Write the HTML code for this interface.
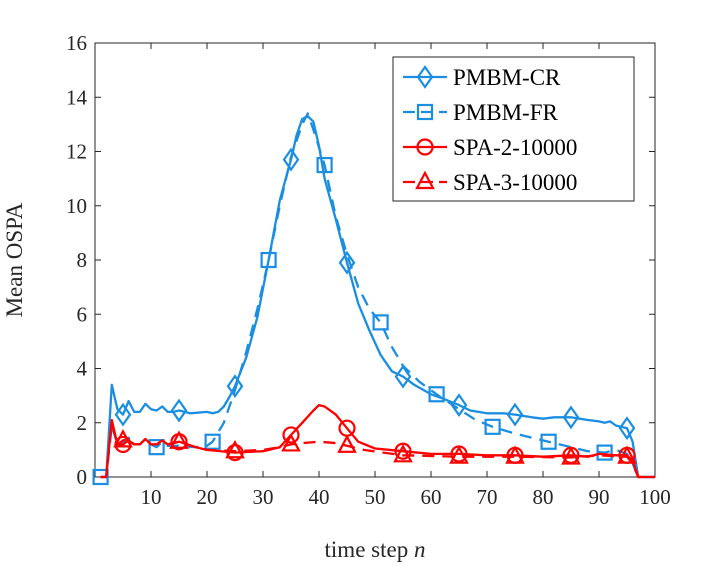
<!DOCTYPE html>
<html><head><meta charset="utf-8"><style>
body{margin:0;background:#fff}
svg{display:block;font-family:"Liberation Serif",serif}
</style></head><body>
<svg id="chart" width="720" height="566" viewBox="0 0 720 566"></svg>
<script>
const crX=[1,2,3,4,5,6,7,8,9,10,11,12,13,14,15,17,20,21,22,23,24,25,27,29,31,33,35,36,37,38,39,40,41,43,45,47,49,51,53,55,57,60,62,65,67,70,73,75,78,80,82,85,88,90,91,92,93,95,96,97,100];
const crY=[0,0,3.4,2.5,2.3,2.8,2.4,2.4,2.7,2.5,2.45,2.6,2.4,2.4,2.45,2.35,2.4,2.35,2.4,2.6,2.95,3.35,4.4,5.9,8.0,10.2,11.7,12.6,13.2,13.3,13.1,12.2,11.0,9.5,7.9,6.4,5.4,4.5,3.9,3.7,3.4,3.05,2.9,2.65,2.45,2.35,2.35,2.3,2.2,2.15,2.2,2.2,2.1,2.05,2.0,2.05,1.9,1.8,1.3,0,0];
const frX=[1,2,3,4,5,6,7,8,9,10,11,12,13,15,18,20,21,23,25,27,29,31,33,35,37,38,39,41,43,45,47,49,51,53,55,58,61,65,68,71,75,78,81,85,88,91,93,95,96,97,100];
const frY=[0,0,1.9,1.2,1.3,1.45,1.2,1.2,1.4,1.2,1.1,1.3,1.15,1.15,1.1,1.15,1.3,2.0,3.2,4.6,6.2,8.0,10.0,11.8,13.0,13.4,12.8,11.5,9.6,8.2,7.0,6.2,5.7,4.8,4.1,3.5,3.05,2.5,2.1,1.85,1.6,1.45,1.3,1.1,0.95,0.9,1.0,0.85,0.5,0,0];
const s2X=[1,2,3,4,5,6,7,8,9,10,11,12,13,15,18,20,25,30,33,35,37,39,40,41,43,45,47,50,55,60,65,70,75,80,85,88,90,93,95,96,97,100];
const s2Y=[0,0,2.1,1.2,1.2,1.35,1.2,1.2,1.4,1.2,1.2,1.35,1.2,1.3,1.1,1.0,0.9,0.95,1.1,1.55,2.0,2.45,2.65,2.6,2.3,1.8,1.3,1.05,0.95,0.85,0.85,0.8,0.8,0.75,0.8,0.75,0.85,0.8,0.8,0.6,0,0];
const s3X=[1,2,3,4,5,6,7,8,9,10,11,12,13,15,18,20,25,30,33,35,37,40,43,45,48,55,65,75,85,90,95,96,97,100];
const s3Y=[0,0,2.0,1.2,1.35,1.4,1.2,1.2,1.4,1.2,1.2,1.3,1.2,1.3,1.1,1.0,0.95,1.0,1.1,1.2,1.25,1.3,1.25,1.15,1.0,0.8,0.75,0.75,0.72,0.8,0.75,0.5,0,0];
const crMarks=[5,15,25,35,45,55,65,75,85,95];
const frMarks=[1,11,21,31,41,51,61,71,81,91];
const s2Marks=[5,15,25,35,45,55,65,75,85,95];
const s3Marks=[5,15,25,35,45,55,65,75,85,95];
const xTicks=[10,20,30,40,50,60,70,80,90,100];
const yTicks=[0,2,4,6,8,10,12,14,16];

const NS="http://www.w3.org/2000/svg";
const svg=document.getElementById('chart');
const L=95,R=655,T=43,B=477;
const sx=v=>L+(v-0)/(100-0)*(R-L);
const sy=v=>B-(v-0)/16*(B-T);
function mk(tag,attrs,parent){const e=document.createElementNS(NS,tag);for(const k in attrs)e.setAttribute(k,attrs[k]);(parent||svg).appendChild(e);return e;}

const axes=mk('rect',{x:L,y:T,width:R-L,height:B-T,fill:'none',stroke:'#262626','stroke-width':1});



xTicks.forEach(t=>{
  const g=mk('g',{});
  
  
  mk('line',{x1:sx(t),x2:sx(t),y1:B,y2:B-6,stroke:'#262626'},g);
  mk('line',{x1:sx(t),x2:sx(t),y1:T,y2:T+6,stroke:'#262626'},g);
  const tx=mk('text',{x:sx(t),y:B+27,'text-anchor':'middle','font-size':21,fill:'#262626'},g);
  tx.textContent=t;
});
yTicks.forEach(t=>{
  const g=mk('g',{});
  
  
  mk('line',{x1:L,x2:L+6,y1:sy(t),y2:sy(t),stroke:'#262626'},g);
  mk('line',{x1:R,x2:R-6,y1:sy(t),y2:sy(t),stroke:'#262626'},g);
  const tx=mk('text',{x:L-8,y:sy(t)+7,'text-anchor':'end','font-size':21,fill:'#262626'},g);
  tx.textContent=t;
});

const blue='#1a8ee0',red='#ff0000';
function marker(kind,x,y,color,parent){
  const a={fill:'none',stroke:color,'stroke-width':2.2};
  if(kind==='d'){a.points=`${x},${y-10} ${x+7},${y} ${x},${y+10} ${x-7},${y}`;return mk('polygon',a,parent);}
  if(kind==='s'){a.x=x-7;a.y=y-7;a.width=14;a.height=14;return mk('rect',a,parent);}
  if(kind==='o'){a.cx=x;a.cy=y;a.r=7.5;return mk('circle',a,parent);}
  if(kind==='t'){a.points=`${x},${y-9} ${x+8},${y+6} ${x-8},${y+6}`;return mk('polygon',a,parent);}
}
function series(name,xs,ys,marks,color,dash,kind){
  const g=mk('g',{});
  
  
  const d=xs.map((x,i)=>(i?'L':'M')+sx(x).toFixed(1)+','+sy(ys[i]).toFixed(1)).join(' ');
  const p=mk('path',{d:d,fill:'none',stroke:color,'stroke-width':2.3,'stroke-dasharray':dash||'none','stroke-linejoin':'round'},g);
  
  
  marks.forEach(m=>{const i=xs.indexOf(m);if(i<0)return;
    const mm=marker(kind,sx(m),sy(ys[i]),color,g);
    
    
  });
}
series('pmbm-cr',crX,crY,crMarks,blue,null,'d');
series('pmbm-fr',frX,frY,frMarks,blue,'12,8','s');
series('spa-2-10000',s2X,s2Y,s2Marks,red,null,'o');
series('spa-3-10000',s3X,s3Y,s3Marks,red,'12,8','t');

const lg=mk('g',{});


mk('rect',{x:393,y:57,width:241,height:144,fill:'#fff',stroke:'#262626','stroke-width':1},lg);
const labels=['PMBM-CR','PMBM-FR','SPA-2-10000','SPA-3-10000'];
const colors=[blue,blue,red,red],kinds=['d','s','o','t'],dashes=[null,'12,6',null,'12,6'];
labels.forEach((lab,i)=>{
  const y=77+i*35;
  const e=mk('g',{},lg);
  
  
  mk('line',{x1:403,x2:447,y1:y,y2:y,stroke:colors[i],'stroke-width':2.3,'stroke-dasharray':dashes[i]||'none'},e);
  marker(kinds[i],425,y,colors[i],e);
  const t=mk('text',{x:453,y:y+8,'font-size':23,fill:'#000'},e);
  t.textContent=lab;
});

const yl=mk('text',{x:0,y:0,transform:'translate(22,260) rotate(-90)','text-anchor':'middle','font-size':23,fill:'#262626'});


yl.textContent='Mean OSPA';
const xl=mk('text',{x:375,y:557,'text-anchor':'middle','font-size':23,fill:'#262626'});


xl.innerHTML='time step <tspan font-style="italic">n</tspan>';
</script>
</body></html>
